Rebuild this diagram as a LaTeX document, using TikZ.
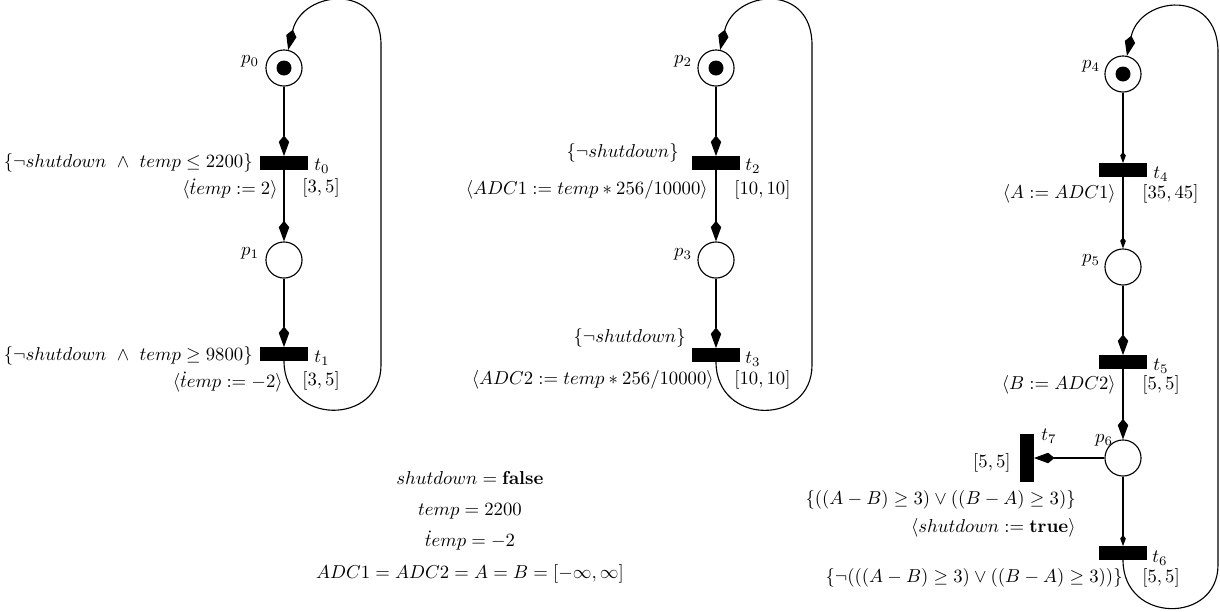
\documentclass[tikz,border=0pt]{standalone}
\usepackage{amsmath,amssymb}
\usetikzlibrary{arrows.meta}

\tikzset{
  place/.style={circle,draw,line width=0.6pt,minimum size=19.3pt,inner sep=0pt},
  hbar/.style={fill,minimum width=26.2pt,minimum height=7pt,inner sep=0pt},
  vbar/.style={fill,minimum width=7pt,minimum height=26.2pt,inner sep=0pt},
  arc/.style={line width=0.6pt,-{Kite[length=11pt,width=5.6pt,inset=3.4pt]}},
  small arc/.style={line width=0.6pt,-{Kite[length=6pt,width=3pt,inset=2pt]}},
  txt/.style={inner sep=0pt},
}

\begin{document}
\begin{tikzpicture}[x=0.535pt,y=-0.535pt]
    \useasboundingbox (0,0) rectangle (1220,612);

    % first net: temperature
    \node[place] (p0) at (284,68) {};
    \fill (p0) circle[radius=7.5];
    \node[hbar] (t0) at (284,163) {};
    \node[place] (p1) at (284,260) {};
    \node[hbar] (t1) at (284,354) {};
    \node[txt] (p0l) at (250,61) {$p_0$};
    \node[txt] (p1l) at (250,253) {$p_1$};
    \node[txt] (t0l) at (322,166) {$t_0$};
    \node[txt] (t1l) at (322,358) {$t_1$};
    \node[txt,anchor=east] (g0) at (253,163) {$\{\neg shutdown\ \wedge\ temp \leq 2200\}$};
    \node[txt,anchor=east] (a0) at (278,189) {$\langle \dot{t}emp := 2\rangle$};
    \node[txt,anchor=west] (i0) at (302,188) {$[3,5]$};
    \node[txt,anchor=east] (g1) at (253,356) {$\{\neg shutdown\ \wedge\ temp \geq 9800\}$};
    \node[txt,anchor=east] (a1) at (283,382) {$\langle \dot{t}emp := -2\rangle$};
    \node[txt,anchor=west] (i1) at (302,381) {$[3,5]$};
    \draw[arc] (p0) -- (t0);
    \draw[arc] (t0) -- (p1);
    \draw[arc] (p1) -- (t1);
    \draw[arc] (t1) .. controls (284,426) and (381,426) .. (381,365)
        -- (381,45) .. controls (381,-18) and (302,-10) .. (p0);

    % second net: first converter
    \node[place] (p2) at (716,68) {};
    \fill (p2) circle[radius=7.5];
    \node[hbar] (t2) at (716,163) {};
    \node[place] (p3) at (716,260) {};
    \node[hbar] (t3) at (716,355) {};
    \node[txt] (p2l) at (683,61) {$p_2$};
    \node[txt] (p3l) at (683,254) {$p_3$};
    \node[txt] (t2l) at (753,166) {$t_2$};
    \node[txt] (t3l) at (753,359) {$t_3$};
    \node[txt,anchor=east] (g2) at (679,153) {$\{\neg shutdown\}$};
    \node[txt,anchor=east] (a2) at (708,190) {$\langle ADC1 := temp*256/10000\rangle$};
    \node[txt,anchor=west] (i2) at (734,190) {$[10,10]$};
    \node[txt,anchor=east] (g3) at (686,338) {$\{\neg shutdown\}$};
    \node[txt,anchor=east] (a3) at (714,380) {$\langle ADC2 := temp*256/10000\rangle$};
    \node[txt,anchor=west] (i3) at (734,380) {$[10,10]$};
    \draw[arc] (p2) -- (t2);
    \draw[arc] (t2) -- (p3);
    \draw[arc] (p3) -- (t3);
    \draw[arc] (t3) .. controls (716,426) and (812,426) .. (812,365)
        -- (812,45) .. controls (812,-18) and (734,-10) .. (p2);

    % third net: comparator
    \node[place] (p4) at (1123,74) {};
    \fill (p4) circle[radius=7.5];
    \node[hbar] (t4) at (1123,170) {};
    \node[place] (p5) at (1123,267) {};
    \node[hbar] (t5) at (1123,362) {};
    \node[place] (p6) at (1123,458) {};
    \node[hbar] (t6) at (1123,553) {};
    \node[vbar] (t7) at (1027,458) {};
    \node[txt] (p4l) at (1091,66) {$p_4$};
    \node[txt] (p5l) at (1091,260) {$p_5$};
    \node[txt] (p6l) at (1104,440) {$p_6$};
    \node[txt] (t4l) at (1161,174) {$t_4$};
    \node[txt] (t5l) at (1161,366) {$t_5$};
    \node[txt] (t6l) at (1160,558) {$t_6$};
    \node[txt] (t7l) at (1049,436) {$t_7$};
    \node[txt,anchor=east] (a4) at (1116,194) {$\langle A := ADC1\rangle$};
    \node[txt,anchor=west] (i4) at (1142,194) {$[35,45]$};
    \node[txt,anchor=east] (a5) at (1116,385) {$\langle B := ADC2\rangle$};
    \node[txt,anchor=west] (i5) at (1142,385) {$[5,5]$};
    \node[txt,anchor=east] (i7) at (1011,463) {$[5,5]$};
    \node[txt,anchor=east] (g7) at (1076,500) {$\{((A-B)\geq 3)\vee((B-A)\geq 3)\}$};
    \node[txt,anchor=east] (a7) at (1076,528) {$\langle shutdown := \mathbf{true}\rangle$};
    \node[txt,anchor=east] (g6) at (1123,578) {$\{\neg(((A-B)\geq 3)\vee((B-A)\geq 3))\}$};
    \node[txt,anchor=west] (i6) at (1142,578) {$[5,5]$};
    \draw[small arc] (p4) -- (t4);
    \draw[small arc] (t4) -- (p5);
    \draw[arc] (p5) -- (t5);
    \draw[arc] (t5) -- (p6);
    \draw[small arc] (p6) -- (t6);
    \draw[arc] (p6) -- (t7);
    \draw[arc] (t6) .. controls (1123,624) and (1218,624) .. (1218,565)
        -- (1218,52) .. controls (1218,-12) and (1140,-4) .. (p4);

    % initial marking
    \node[txt,align=center] (m0) at (470,527) {$shutdown = \mathbf{false}$\\[4.8pt]
        $temp = 2200$\\[4.8pt]
        $\dot{t}emp = -2$\\[4.8pt]
        $ADC1 = ADC2 = A = B = [-\infty,\infty]$};
\end{tikzpicture}
\end{document}
